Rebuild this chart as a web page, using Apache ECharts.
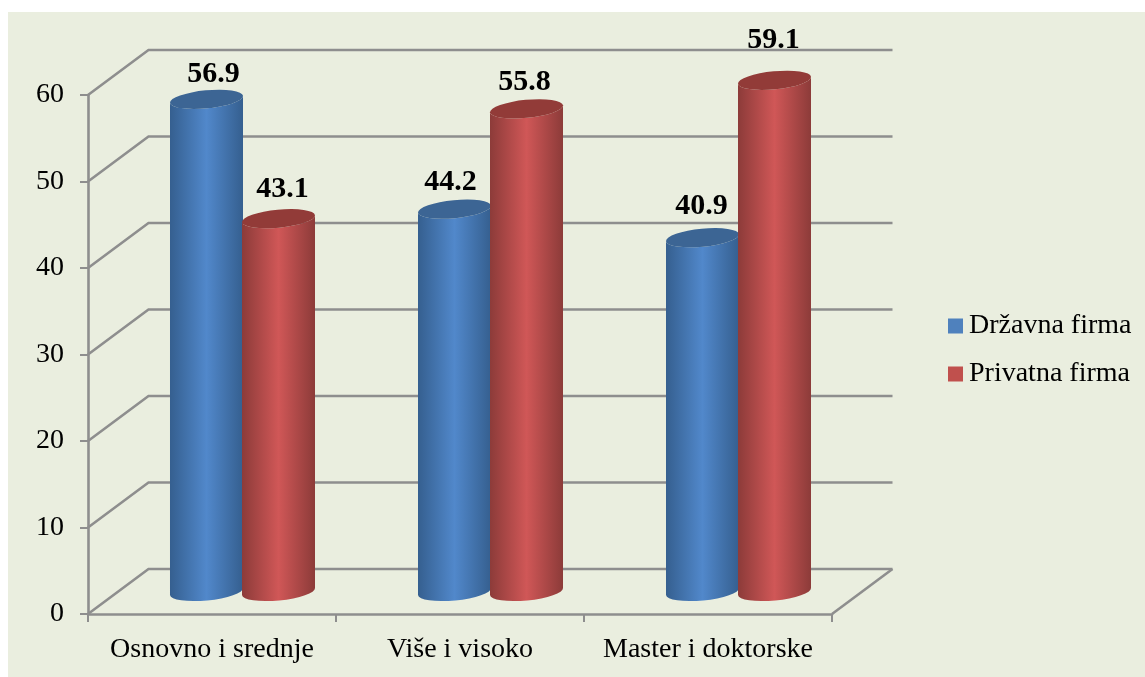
<!DOCTYPE html>
<html>
<head>
<meta charset="utf-8">
<title>Državna i privatna firma</title>
<script src="https://cdn.jsdelivr.net/npm/echarts@6/dist/echarts.min.js"></script>
<style>
    html, body { margin: 0; padding: 0; background: #fff; overflow: hidden; }
    #bg { position: absolute; left: 8px; top: 12px; right: 0; bottom: 0; background: #eaeedf; }
    #chart { position: absolute; left: 0; top: 0; width: 1145px; height: 677px; }
</style>
</head>
<body>
<div id="bg"></div>
<div id="chart"></div>
<script>
const categories = ['Osnovno i srednje', 'Više i visoko', 'Master i doktorske']
const seriesNames = ['Državna firma', 'Privatna firma']
const drzavnaValues = [56.9, 44.2, 40.9]
const privatnaValues = [43.1, 55.8, 59.1]
const yTicks = [0, 10, 20, 30, 40, 50, 60]

// pseudo 3D: depth of the box and of the bar row, in px
const DEPTH_X = 60.5
const DEPTH_Y = -45
const ROW_X = 30.5
const ROW_Y = -22.5
const BAR_W = 73
const RY = 9
const TILT = 3.5

// labels were moved by hand in the original, so nudge them per bar
const drzavnaNudge = [[7, -25], [-4, -27], [-1, -31]]
const privatnaNudge = [[4, -29], [-2, -27], [-1, -40]]

const LINE = '#8e8e8e'
const FONT = '"Liberation Serif", serif'

const chart = echarts.init(document.getElementById('chart'))

const renderWall = (params, api) => {
    const v = api.value(0)
    const band = api.size([1, 0])[0]
    const left = api.coord([0, v])[0] - band / 2
    const right = api.coord([categories.length - 1, v])[0] + band / 2
    const y = api.coord([0, v])[1]
    const children = [{
        type: 'polyline',
        shape: { points: [[left, y], [left + DEPTH_X, y + DEPTH_Y], [right + DEPTH_X, y + DEPTH_Y]] },
        style: { stroke: LINE, lineWidth: 2.6, fill: null }
    }]
    if (v === 0) {
        children.push({
            type: 'line',
            shape: { x1: right, y1: y, x2: right + DEPTH_X, y2: y + DEPTH_Y },
            style: { stroke: LINE, lineWidth: 2.6 }
        })
    }
    return { type: 'group', children }
}

const makeCylinder = (shift, nudge, colors) => (params, api) => {
    const i = api.value(0)
    const val = api.value(1)
    const top = api.coord([i, val])
    const base = api.coord([i, 0])
    const cx = top[0] + ROW_X + shift
    const yTop = top[1] + ROW_Y
    const yBase = base[1] + ROW_Y
    const w = BAR_W / 2
    // the chord is the major axis, so each arc is exactly half an ellipse
    const rx = Math.hypot(w, TILT)
    const rot = -(Math.atan2(TILT, w) * 180) / Math.PI
    const arc = ' A' + rx + ' ' + RY + ' ' + rot + ' 0 '
    const body = 'M' + (cx - w) + ' ' + (yTop + TILT) +
        ' L' + (cx - w) + ' ' + (yBase + TILT) +
        arc + '0 ' + (cx + w) + ' ' + (yBase - TILT) +
        ' L' + (cx + w) + ' ' + (yTop - TILT) +
        arc + '1 ' + (cx - w) + ' ' + (yTop + TILT) + ' Z'
    const cap = 'M' + (cx - w) + ' ' + (yTop + TILT) +
        arc + '1 ' + (cx + w) + ' ' + (yTop - TILT) +
        arc + '1 ' + (cx - w) + ' ' + (yTop + TILT) + ' Z'
    return {
        type: 'group',
        children: [
            {
                type: 'path',
                shape: { pathData: body },
                style: {
                    fill: new echarts.graphic.LinearGradient(0, 0, 1, 0, [
                        { offset: 0, color: colors.edge },
                        { offset: 0.5, color: colors.mid },
                        { offset: 1, color: colors.edge }
                    ])
                }
            },
            {
                type: 'path',
                shape: { pathData: cap },
                style: { fill: colors.cap }
            },
            {
                type: 'text',
                style: {
                    text: val.toFixed(1),
                    x: cx + nudge[i][0],
                    y: yTop + nudge[i][1],
                    align: 'center',
                    verticalAlign: 'middle',
                    fill: '#000',
                    font: 'bold 30px ' + FONT
                }
            }
        ]
    }
}

const blue = { edge: '#355f8f', mid: '#5188cb', cap: '#3c6594' }
const red = { edge: '#8c3b39', mid: '#d05757', cap: '#923b38' }

chart.setOption({
    animation: false,
    grid: { left: 88, width: 744, top: 95, height: 519 },
    legend: {
        left: 943,
        top: 307,
        orient: 'vertical',
        icon: 'rect',
        itemWidth: 15,
        itemHeight: 15,
        itemGap: 20,
        data: seriesNames,
        textStyle: { fontFamily: FONT, fontSize: 28, color: '#000', padding: [0, 0, 0, 1] }
    },
    xAxis: {
        type: 'category',
        data: categories,
        axisLine: { lineStyle: { color: LINE, width: 2.6 } },
        axisTick: { show: true, interval: 0, length: 8, lineStyle: { color: LINE, width: 2 } },
        axisLabel: { interval: 0, margin: 22, fontFamily: FONT, fontSize: 28, color: '#000' }
    },
    yAxis: {
        type: 'value',
        min: 0,
        max: 60,
        interval: 10,
        splitLine: { show: false },
        axisLine: { show: true, lineStyle: { color: LINE, width: 2.6 } },
        axisTick: { show: true, length: 8, lineStyle: { color: LINE, width: 2 } },
        axisLabel: { margin: 24, fontFamily: FONT, fontSize: 28, color: '#000', padding: [6, 0, 0, 0] }
    },
    series: [
        {
            type: 'custom',
            name: 'wall',
            clip: false,
            silent: true,
            renderItem: renderWall,
            encode: { y: 0 },
            data: yTicks.map(v => [v])
        },
        {
            type: 'custom',
            name: seriesNames[0],
            clip: false,
            itemStyle: { color: '#4f81bd' },
            renderItem: makeCylinder(-36, drzavnaNudge, blue),
            encode: { x: 0, y: 1 },
            data: drzavnaValues.map((v, i) => [i, v])
        },
        {
            type: 'custom',
            name: seriesNames[1],
            clip: false,
            itemStyle: { color: '#c0504d' },
            renderItem: makeCylinder(36, privatnaNudge, red),
            encode: { x: 0, y: 1 },
            data: privatnaValues.map((v, i) => [i, v])
        }
    ]
})
</script>
</body>
</html>
